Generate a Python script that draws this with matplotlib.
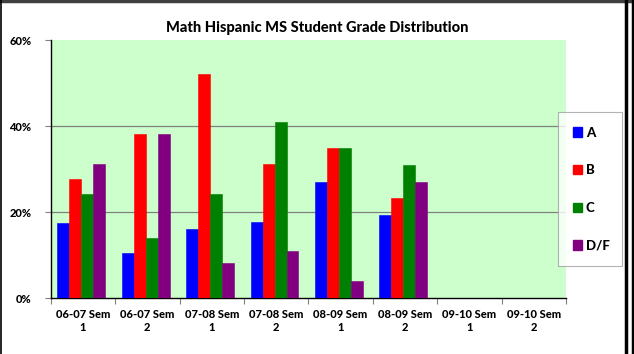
import matplotlib
matplotlib.use("Agg")
import matplotlib.pyplot as plt
import numpy as np
from matplotlib.patches import Rectangle
from matplotlib.lines import Line2D

categories = ["06-07 Sem\n1", "06-07 Sem\n2", "07-08 Sem\n1", "07-08 Sem\n2",
              "08-09 Sem\n1", "08-09 Sem\n2", "09-10 Sem\n1", "09-10 Sem\n2"]
grade_a = [17.4, 10.5, 16.2, 17.7, 27.1, 19.4, None, None]
grade_b = [27.7, 38.1, 52.2, 31.2, 34.9, 23.3, None, None]
grade_c = [24.2, 14.0, 24.2, 40.9, 34.9, 31.0, None, None]
grade_df = [31.2, 38.1, 8.2, 11.0, 4.1, 27.0, None, None]
series_names = ["A", "B", "C", "D/F"]
series_colors = ["#0000FF", "#FF0000", "#008000", "#800080"]
y_ticks = [0, 20, 40, 60]

plt.rcParams["font.family"] = ["Lato", "DejaVu Sans"]
plt.rcParams["font.weight"] = "bold"

fig = plt.figure(figsize=(6.34, 3.54), dpi=100)
ax = fig.add_axes([50.7 / 634, 1 - 298.3 / 354, (566 - 50.7) / 634, (298.3 - 40) / 354])
ax.set_facecolor("#CCFFCC")

x = np.arange(len(categories))
bar_w = 0.186
for i, (vals, col) in enumerate(zip([grade_a, grade_b, grade_c, grade_df], series_colors)):
    xs = [xi for xi, v in zip(x, vals) if v is not None]
    vs = [v for v in vals if v is not None]
    ax.bar(np.array(xs) + (i - 1.5) * bar_w - 0.025, vs, width=bar_w, color=col,
           edgecolor=col, linewidth=0.4, zorder=3)

ax.set_xlim(-0.5, len(categories) - 0.5)
ax.set_ylim(0, 60)
ax.set_yticks(y_ticks)
ax.set_yticklabels([f"{t}%" for t in y_ticks], fontsize=8, fontweight=900)
for t in [20, 40]:
    ax.axhline(t, color="#808080", linewidth=0.9, zorder=1)

ax.set_xticks(np.arange(len(categories) + 1) - 0.5, minor=False)
ax.set_xticklabels([])
ax.set_xticks(x, minor=True)
ax.set_xticklabels(categories, minor=True, fontsize=8, fontweight=900, linespacing=1.2)
ax.tick_params(axis="x", which="minor", length=0, pad=8)
ax.tick_params(axis="x", which="major", length=4, color="#808080", direction="out")
ax.tick_params(axis="y", length=4, color="#808080", direction="out", pad=10)

for s in ["top", "right"]:
    ax.spines[s].set_visible(False)
ax.spines["left"].set_color("black")
ax.spines["bottom"].set_color("black")
ax.spines["left"].set_linewidth(1.0)
ax.spines["bottom"].set_linewidth(1.0)

fig.text(317 / 634, 1 - 28 / 354, "Math Hispanic MS Student Grade Distribution",
         ha="center", va="center", fontsize=10.5, fontweight=900)

handles = [Rectangle((0, 0), 1, 1, color=c) for c in series_colors]
leg = fig.legend(handles, series_names, loc="upper left",
                 bbox_to_anchor=(558 / 634, 1 - 263 / 354, 64 / 634, 151 / 354),
                 mode="expand", frameon=True, fancybox=False, handlelength=0.7,
                 handleheight=0.7, handletextpad=0.3, labelspacing=1.95,
                 borderpad=1.1, borderaxespad=0, prop={"weight": 900, "size": 9.5})
leg.get_frame().set_edgecolor("#A0A0A0")
leg.get_frame().set_linewidth(0.8)

# outer frame
fig.add_artist(Line2D([0, 1], [1 - 1 / 354, 1 - 1 / 354], transform=fig.transFigure,
                      color="#404040", linewidth=2.5))
fig.add_artist(Line2D([0.5 / 634, 0.5 / 634], [0, 1], transform=fig.transFigure,
                      color="black", linewidth=1.2))
fig.add_artist(Line2D([626 / 634, 626 / 634], [0, 1], transform=fig.transFigure,
                      color="black", linewidth=2.5))
fig.add_artist(Line2D([632.5 / 634, 632.5 / 634], [0, 1], transform=fig.transFigure,
                      color="black", linewidth=2.5))

fig.savefig("out.png", dpi=100)
